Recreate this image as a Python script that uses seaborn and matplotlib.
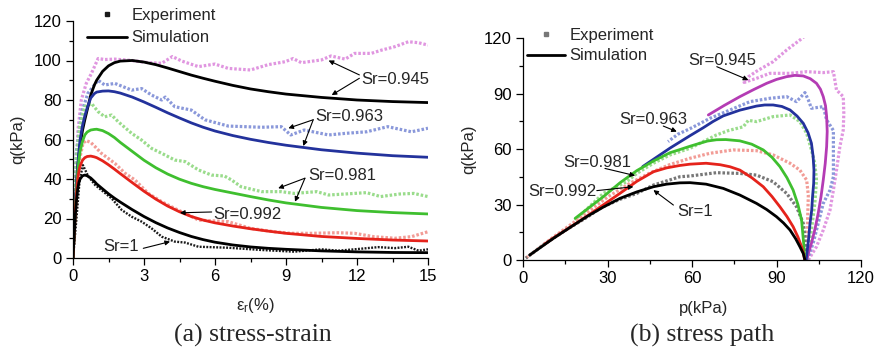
import matplotlib
matplotlib.use("Agg")
import matplotlib.pyplot as plt
from matplotlib.lines import Line2D
from matplotlib.ticker import MultipleLocator
import seaborn as sns

# ---------------- (a) stress-strain : axial strain (%) vs q (kPa) ----------------
strain_sim = [0, 0.05, 0.1, 0.15, 0.2, 0.25, 0.3, 0.4, 0.5, 0.6, 0.75, 0.9, 1.0, 1.25, 1.5, 1.75, 2.0,
              2.5, 3, 3.5, 4, 4.5, 5, 5.5, 6, 6.75, 7.5, 8.25, 9, 10.5, 12, 13.5, 15]
q_sim_945 = [0, 14, 27, 37, 46, 52, 57, 64.5, 70, 75, 82.5, 87.5, 90, 94.5, 97.3, 98.9, 99.7,
             100, 99.2, 97.9, 96.2, 94.4, 92.6, 91, 89.5, 87.4, 85.6, 84.2, 83, 81.3, 80, 79.2, 78.7]
q_sim_963 = [0, 15, 28, 38.5, 47, 54, 60, 67, 72, 76, 81, 83.2, 84, 84.5, 84.6, 84.2, 83.5,
             81.5, 79, 76.3, 73.5, 70.9, 68.4, 66.2, 64.3, 62, 60.1, 58.5, 57.1, 54.8, 53.1, 51.8, 51]
q_sim_981 = [0, 13, 25, 35, 43, 49.5, 54, 59, 62.3, 63.8, 64.8, 65.1, 65.2, 64.5, 63, 61, 58.5,
             54, 49.5, 45.7, 42.5, 39.9, 37.8, 36.1, 34.7, 32.9, 31.1, 29.4, 27.9, 25.6, 24, 23, 22.3]
q_sim_992 = [0, 12.5, 24, 33, 40, 44, 46.5, 49.5, 50.8, 51.4, 51.6, 51.2, 50.8, 49.2, 47.2, 45, 42.7,
             38.2, 33.8, 29.8, 26.3, 23.4, 21, 19.2, 17.8, 16.2, 14.8, 13.6, 12.5, 10.9, 9.9, 9.1, 8.6]
q_sim_100 = [0, 11.5, 22, 29.5, 35, 38.3, 40, 41.6, 42, 41.6, 40.5, 38.8, 37.5, 35, 32.5, 30.3, 28.3,
             24.5, 21, 17.9, 15.2, 12.9, 10.9, 9.3, 8, 6.6, 5.6, 4.9, 4.4, 3.6, 3.1, 2.8, 2.7]

eps_exp_945 = [0, 0.07, 0.14, 0.21, 0.35, 0.56, 0.78, 1.06, 1.34, 1.77, 2.48, 3.18, 3.75, 4.2, 4.6, 5.3, 6.0,
               6.56, 7.5, 8.25, 8.97, 9.3, 9.65, 10.5, 10.9, 11.5, 11.9, 12.6, 13.05, 13.6, 14.17, 14.6, 15]
q_exp_945 = [0, 20, 45, 64.8, 80, 88.4, 93.5, 101, 100.5, 100.7, 100, 98.9, 98.6, 102, 99.7, 96.9, 98.2,
             96, 95.2, 97.9, 99.4, 101, 98.9, 100.3, 102.3, 100.7, 103.6, 103.6, 105.3, 107, 109.5, 109, 107.8]
eps_exp_963 = [0, 0.07, 0.14, 0.35, 0.63, 1.06, 1.34, 1.77, 2.48, 2.9, 3.32, 3.75, 3.9, 4.3, 5.0, 5.57,
               6.56, 7.97, 8.8, 9.2, 9.77, 10.8, 11.5, 12.4, 13.3, 14.3, 15]
q_exp_963 = [0, 25, 53, 73.2, 83.4, 90, 87.6, 88.4, 85, 85.8, 82.5, 80, 81.5, 76.6, 74.9, 70,
             66.8, 66.2, 66.5, 62.3, 64.8, 62.3, 63.1, 63.9, 66.5, 63.9, 65.7]
eps_exp_981 = [0, 0.07, 0.14, 0.28, 0.49, 0.78, 1.06, 1.34, 1.63, 1.91, 2.48, 2.9, 3.32, 3.75, 4.3, 4.74,
               5.3, 5.85, 6.4, 6.7, 7.1, 7.97, 8.8, 9.35, 10.3, 10.8, 11.5, 12.4, 13, 13.8, 14.4, 15]
q_exp_981 = [0, 22, 49.6, 66.5, 76.6, 78.3, 74.1, 71.5, 72.4, 69, 63.1, 59.7, 55.5, 53, 49.6, 48.8,
             44.6, 42, 41.5, 39.5, 36.1, 33.6, 33.6, 32.7, 33.6, 31.9, 32.4, 33.1, 31.1, 32.4, 32.7, 31.1]
eps_exp_992 = [0, 0.1, 0.21, 0.42, 0.55, 0.75, 0.93, 1.2, 1.77, 2.2, 2.62, 3.18, 3.75, 4.3, 4.88, 5.3,
               6.56, 7.5, 8.5, 9.2, 10.1, 11.2, 11.9, 12.7, 13.6, 14.3, 15]
q_exp_992 = [0, 25, 46.2, 58, 59.5, 58.5, 56.4, 53, 47.9, 42.9, 39.5, 32.7, 28.5, 25.1, 21.8, 19.2,
             18.4, 15, 13.3, 12.5, 12.5, 12.8, 12.5, 10.8, 10, 10.8, 13.3]
eps_exp_100 = [0, 0.14, 0.28, 0.42, 0.63, 0.93, 1.2, 1.63, 2.06, 2.48, 2.9, 3.32, 3.75, 4.3, 4.74, 5.3,
               6.56, 7.97, 9.35, 10.5, 11.2, 11.9, 12.9, 13.6, 14.17, 14.6, 15]
q_exp_100 = [0, 19.2, 39.5, 47, 41.7, 37, 34.4, 30.2, 24.3, 20.9, 18.4, 15, 10.8, 8.3, 7.8, 5.7,
             5.2, 4.05, 3.2, 4.4, 3.7, 4.4, 5.5, 5.0, 5.7, 3.7, 4.4]

# ---------------- (b) stress path : p (kPa) vs q (kPa) ----------------
p_sim_100 = [100.1, 99.5, 98.3, 96.8, 94.8, 92.5, 90, 86.5, 82.9, 77, 71.1, 65, 59.3, 55.7, 51, 46.3,
             40.4, 34.4, 28.5, 22.6, 16.7, 10.8, 2.4]
q_sim_100b = [0, 3.5, 7.2, 11.5, 16.2, 20, 23.4, 27.3, 30.6, 35.1, 38.7, 41, 41.8, 41.7, 41, 39.6,
              36.8, 33.3, 28.6, 23.4, 17.6, 11.7, 2.7]
p_sim_992 = [100, 99.6, 98.9, 97.6, 95.9, 93.7, 91.2, 88.4, 85.3, 81.2, 77, 73.5, 70, 65, 59.3, 55.7,
             51, 46.3, 40.4, 34.4, 28.5, 22.6, 16.7, 10.8, 7.7]
q_sim_992b = [0, 3.5, 7.2, 12.5, 18, 23.5, 28.8, 34.3, 39.6, 44.5, 48.6, 50.4, 51.5, 52.3, 51.8, 51.1,
              49.8, 47.7, 42.5, 36, 29.8, 23.6, 17.7, 11.9, 8.6]
p_sim_981 = [100, 99.7, 98.9, 97.6, 95.9, 93.7, 91.2, 88.4, 85.3, 81.2, 77, 72, 68.7, 65.5, 62.8, 59.3,
             55.7, 52.2, 46.3, 40.4, 34.4, 28.5, 22.6, 18.5]
q_sim_981b = [0, 8, 21.6, 30, 37.8, 44.5, 50.5, 55.5, 59.5, 62.6, 64.4, 65.1, 65, 64.3, 63.1, 61.5,
              59.7, 58, 53.5, 48.3, 41.7, 34.2, 27.3, 22.5]
p_sim_963 = [100.5, 101.3, 101.9, 102.5, 102.8, 103.2, 103.3, 103, 102.4, 101.2, 99.5, 97.3, 94.8,
             91.9, 88.8, 85.8, 82.9, 77, 71.1, 67.5, 64, 59.3, 52.2, 42.5]
q_sim_963b = [0, 10, 19.8, 27, 34.2, 41.5, 48.6, 56, 63.1, 68.8, 73.9, 77.8, 81.1,
              83, 83.8, 83.8, 83.2, 81, 77.9, 74.9, 71.5, 67.2, 60.5, 50.5]
p_sim_945 = [100.7, 101.5, 102.4, 103.7, 104.8, 105.8, 106.6, 107.3, 107.8, 108, 107.8, 107.4, 106.6,
             105.6, 104.2, 102, 99.5, 96.5, 93.6, 90, 86.5, 82, 77, 71.5, 65.8]
q_sim_945b = [0, 4.5, 9, 17, 25.2, 34.2, 43.2, 52.2, 61.3, 69.5, 77.5, 83.4, 88.3,
              92.3, 95.5, 98, 99.5, 99.8, 99.1, 97.6, 95.5, 92.2, 88.3, 83.6, 78.4]

p_exp_100 = [100.5, 100.1, 99.5, 97.1, 93.6, 88.8, 82.9, 77, 68.7, 59.3, 55.7, 46.3, 40.4, 34.4,
             28, 22.6, 15, 8, 1]
q_exp_100b = [0, 12.6, 19.8, 28.8, 36, 42.3, 45.9, 46.8, 47.2, 45.4, 45, 40.5, 36, 32.8,
              28.5, 23, 16, 9, 1]
p_exp_992 = [100.5, 101, 101.3, 100.7, 98.3, 94.8, 88.8, 82.9, 74.6, 66.4, 59.3, 52, 45, 38, 30, 20, 10, 1]
q_exp_992b = [0, 20, 35, 43.2, 48.6, 52.3, 56.8, 59.1, 59.5, 57.7, 55, 51.5, 47, 41.5, 34, 22.5, 11.5, 1]
p_exp_981 = [100.7, 102.4, 103.6, 104.2, 103.6, 102.4, 100.7, 98.3, 94.8, 88.8, 82.9, 80, 78.2,
             73, 68.7, 59.3, 52.2, 46.3, 40.4, 36.8, 28.5, 23, 18.5]
q_exp_981b = [0, 16.2, 30.6, 43.2, 52.3, 59.5, 68.5, 74.8, 78.4, 77.5, 74.8, 75.5, 72,
              70, 67.6, 60.4, 56.8, 52.3, 46.8, 42.3, 36, 28, 21.6]
p_exp_963 = [100.9, 103, 104.8, 106.6, 109, 110.2, 110.2, 110.2, 107.8, 106.6, 102.4, 101.3, 100.1,
             97.1, 93.6, 87.6, 80.6, 73.5, 66.4, 59.3, 55, 51.5]
q_exp_963b = [0, 9, 19.8, 30.6, 37.8, 45, 58, 70, 75.7, 82.9, 82, 86.5, 90.5,
              85.6, 88.3, 87.4, 85.6, 81.1, 76.6, 71, 68, 64]
p_exp_945 = [101.3, 104.2, 106.6, 109, 110.2, 111.3, 112.5, 113.7, 113.9, 113.7, 111.3, 110.2, 106.6,
             100.7, 94.8, 87.6, 82.9, 78.5, 80, 82.9, 88.8, 93.6, 98.3, 100]
q_exp_945b = [0, 7.2, 16.2, 27, 37.8, 48.6, 61.3, 70.3, 79.3, 88.3, 91.9, 101.8, 101.3,
              101.8, 100.9, 100.9, 98.2, 96, 99, 102, 107.2, 113.5, 118.9, 121]

sr_labels = ["Sr=0.945", "Sr=0.963", "Sr=0.981", "Sr=0.992", "Sr=1"]
legend_labels = ["Experiment", "Simulation"]
captions = ["(a) stress-strain", "(b) stress path"]

# ---------------- style ----------------
sns.set_theme(style="ticks")
plt.rcParams["font.family"] = ["Liberation Sans", "DejaVu Sans"]
plt.rcParams["mathtext.default"] = "regular"
FS = 12

C_BLACK = "#000000"
C_BLUE = "#23329c"
C_GREEN = "#3fbf2f"
C_RED = "#e5231b"
C_MAG = "#b43cb4"
E_PINK = "#e096e0"
E_BLUE = "#8a98da"
E_GREEN = "#9adc8c"
E_RED = "#f29c96"
E_BLACK = "#1a1a1a"
E_GRAY = "#777777"

fig = plt.figure(figsize=(8.77, 3.5), dpi=100)
ax1 = fig.add_axes([73 / 877, 1 - 258 / 350, 355 / 877, 237 / 350])
ax2 = fig.add_axes([523 / 877, 1 - 260 / 350, 338 / 877, 222 / 350])


def sim_line(ax, x, y, color):
    sns.lineplot(x=x, y=y, ax=ax, color=color, lw=2.0, sort=False, estimator=None,
                 solid_joinstyle="round", solid_capstyle="round")


def exp_line(ax, x, y, color, lw=2.3):
    sns.lineplot(x=x, y=y, ax=ax, color=color, lw=lw, sort=False, estimator=None,
                 linestyle=(0, (0.8, 0.6)))


def arrow(ax, start, end):
    ax.annotate("", xy=end, xytext=start,
                arrowprops=dict(arrowstyle="-|>", lw=0.8, color="black",
                                mutation_scale=7, shrinkA=0, shrinkB=0))


# ---- (a) ----
exp_line(ax1, eps_exp_945, q_exp_945, E_PINK)
exp_line(ax1, eps_exp_963, q_exp_963, E_BLUE)
exp_line(ax1, eps_exp_981, q_exp_981, E_GREEN)
exp_line(ax1, eps_exp_992, q_exp_992, E_RED)
exp_line(ax1, eps_exp_100, q_exp_100, E_BLACK, lw=1.7)
sim_line(ax1, strain_sim, q_sim_945, C_BLACK)
sim_line(ax1, strain_sim, q_sim_963, C_BLUE)
sim_line(ax1, strain_sim, q_sim_981, C_GREEN)
sim_line(ax1, strain_sim, q_sim_992, C_RED)
sim_line(ax1, strain_sim, q_sim_100, C_BLACK)

ax1.set_xlim(0, 15)
ax1.set_ylim(0, 120)
ax1.xaxis.set_major_locator(MultipleLocator(3))
ax1.xaxis.set_minor_locator(MultipleLocator(1.5))
ax1.yaxis.set_major_locator(MultipleLocator(20))
ax1.yaxis.set_minor_locator(MultipleLocator(10))
ax1.set_xlabel("ε$_r$(%)", fontsize=FS)
ax1.set_ylabel("q(kPa)", fontsize=FS)
ax1.xaxis.label.set_va("center")
ax1.yaxis.label.set_va("center")
ax1.xaxis.set_label_coords((255 - 73) / 355, (258 - 305.5) / 237)
ax1.yaxis.set_label_coords((17.5 - 73) / 355, 0.5)

ax1.text(12.2, 90.6, sr_labels[0], fontsize=FS, va="center", ha="left")
arrow(ax1, (12.1, 92.7), (10.8, 100.0))
arrow(ax1, (12.1, 91.0), (10.93, 82.5))
ax1.text(10.22, 71.5, sr_labels[1], fontsize=FS, va="center", ha="left")
arrow(ax1, (10.15, 70.0), (9.1, 65.7))
arrow(ax1, (10.15, 70.0), (9.73, 56.7))
ax1.text(9.94, 42.0, sr_labels[2], fontsize=FS, va="center", ha="left")
arrow(ax1, (9.8, 40.4), (8.67, 35.3))
arrow(ax1, (9.8, 40.4), (9.38, 28.5))
ax1.text(5.93, 21.8, sr_labels[3], fontsize=FS, va="center", ha="left")
arrow(ax1, (5.86, 23.3), (4.52, 22.9))
ax1.text(1.27, 5.7, sr_labels[4], fontsize=FS, va="center", ha="left")
arrow(ax1, (2.97, 4.9), (4.1, 8.3))

# ---- (b) ----
exp_line(ax2, p_exp_945, q_exp_945b, E_PINK)
exp_line(ax2, p_exp_963, q_exp_963b, E_BLUE)
exp_line(ax2, p_exp_981, q_exp_981b, E_GREEN)
exp_line(ax2, p_exp_992, q_exp_992b, E_RED)
exp_line(ax2, p_exp_100, q_exp_100b, E_GRAY)
sim_line(ax2, p_sim_945, q_sim_945b, C_MAG)
sim_line(ax2, p_sim_963, q_sim_963b, C_BLUE)
sim_line(ax2, p_sim_981, q_sim_981b, C_GREEN)
sim_line(ax2, p_sim_992, q_sim_992b, C_RED)
sim_line(ax2, p_sim_100, q_sim_100b, C_BLACK)

ax2.set_xlim(0, 120)
ax2.set_ylim(0, 120)
ax2.xaxis.set_major_locator(MultipleLocator(30))
ax2.xaxis.set_minor_locator(MultipleLocator(15))
ax2.yaxis.set_major_locator(MultipleLocator(30))
ax2.yaxis.set_minor_locator(MultipleLocator(15))
ax2.set_xlabel("p(kPa)", fontsize=FS)
ax2.set_ylabel("q(kPa)", fontsize=FS)
ax2.xaxis.label.set_va("center")
ax2.yaxis.label.set_va("center")
ax2.xaxis.set_label_coords((704 - 523) / 338, (260 - 308) / 222)
ax2.yaxis.set_label_coords((469 - 523) / 338, 0.5)

ax2.text(58.7, 108.1, sr_labels[0], fontsize=FS, va="center", ha="left")
arrow(ax2, (68.8, 104.5), (80.0, 97.3))
ax2.text(34.2, 76.0, sr_labels[1], fontsize=FS, va="center", ha="left")
arrow(ax2, (49.8, 72.4), (54.6, 69.4))
ax2.text(14.3, 52.6, sr_labels[2], fontsize=FS, va="center", ha="left")
arrow(ax2, (29.1, 49.5), (39.8, 45.6))
ax2.text(1.9, 36.9, sr_labels[3], fontsize=FS, va="center", ha="left")
arrow(ax2, (26.2, 37.5), (39.2, 39.6))
ax2.text(54.6, 26.1, sr_labels[4], fontsize=FS, va="center", ha="left")
arrow(ax2, (53.4, 29.7), (46.3, 37.8))

for ax in (ax1, ax2):
    sns.despine(ax=ax)
    for s in ("left", "bottom"):
        ax.spines[s].set_linewidth(0.9)
        ax.spines[s].set_color("black")
    ax.tick_params(which="major", direction="out", length=5, width=0.9, labelsize=FS,
                   colors="black", pad=3)
    ax.tick_params(which="minor", direction="out", length=3, width=0.9, colors="black")
    ax.grid(False)

# legends
for ax, x0, top, hl, sp, mcol in ((ax1, 87, 8, 2.4, 0.45, E_BLACK), (ax2, 527, 28, 2.3, 0.33, E_GRAY)):
    handles = [Line2D([], [], ls="", marker="s", ms=2.2, color=mcol),
               Line2D([], [], color="black", lw=2.0)]
    ax.legend(handles, legend_labels, loc="upper left",
              bbox_to_anchor=(x0 / 877, 1 - top / 350), bbox_transform=fig.transFigure,
              frameon=False, fontsize=FS, borderpad=0, borderaxespad=0,
              handlelength=hl, handletextpad=0.25, labelspacing=sp)

# captions
fig.text(253 / 877, 1 - 341.5 / 350, captions[0], ha="center", va="baseline",
         fontsize=18.5, family=["Liberation Serif", "DejaVu Serif"])
fig.text(702 / 877, 1 - 341.5 / 350, captions[1], ha="center", va="baseline",
         fontsize=18.5, family=["Liberation Serif", "DejaVu Serif"])

fig.savefig("out.png", dpi=100)
